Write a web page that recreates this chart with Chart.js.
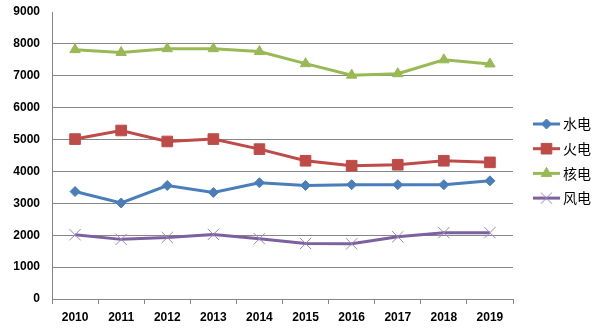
<!DOCTYPE html>
<html>
<head>
<meta charset="utf-8">
<script src="https://cdn.jsdelivr.net/npm/chart.js@4/dist/chart.umd.min.js"></script>
<style>
  html, body { margin: 0; padding: 0; background: #fff; }
  #wrap { width: 600px; height: 335px; }
</style>
</head>
<body>
<div id="wrap"><canvas id="chart" width="600" height="335"></canvas></div>
<script>
var years = ['2010', '2011', '2012', '2013', '2014', '2015', '2016', '2017', '2018', '2019'];
var seriesNames = ['水电', '火电', '核电', '风电'];
var hydro = [3370, 3010, 3560, 3340, 3645, 3560, 3585, 3585, 3585, 3705];
var thermal = [5015, 5285, 4940, 5015, 4700, 4335, 4180, 4210, 4335, 4285];
var nuclear = [7820, 7730, 7850, 7850, 7760, 7380, 7020, 7065, 7500, 7370];
var wind = [2015, 1870, 1930, 2025, 1890, 1740, 1730, 1950, 2080, 2080];

var colors = ['#4a7ebb', '#be4b48', '#98b954', '#7d60a0'];
var markers = ['rectRot', 'rect', 'triangle', 'crossRot'];
var markerSize = [5, 7.5, 6, 8];

function makeSet(i, values) {
    return {
        label: seriesNames[i],
        data: values,
        borderColor: colors[i],
        backgroundColor: colors[i],
        borderWidth: 3,
        tension: 0,
        pointStyle: markers[i],
        pointRadius: markerSize[i],
        pointBorderWidth: 1,
        pointBorderColor: i == 3 ? '#9a86bb' : colors[i],
        pointBackgroundColor: colors[i]
    };
}

// legend drawn by hand: line sample with the marker on it, like the original
var sideLegend = {
    id: 'sideLegend',
    afterDraw: function(chart) {
        var ctx = chart.ctx;
        ctx.save();
        chart.data.datasets.forEach(function(ds, i) {
            var y = 124 + i * 24.7;
            ctx.strokeStyle = ds.borderColor;
            ctx.lineWidth = 3;
            ctx.beginPath();
            ctx.moveTo(533, y);
            ctx.lineTo(560, y);
            ctx.stroke();
            ctx.lineWidth = 1;
            ctx.fillStyle = ds.pointBackgroundColor;
            ctx.strokeStyle = ds.pointBorderColor;
            Chart.helpers.drawPoint(ctx, {
                pointStyle: ds.pointStyle,
                radius: ds.pointRadius,
                borderWidth: 1,
                rotation: 0
            }, 546.5, y);
            ctx.fillStyle = '#000';
            ctx.font = '14px "Noto Sans CJK SC"';
            ctx.textBaseline = 'middle';
            ctx.textAlign = 'left';
            ctx.fillText(ds.label, 563, y);
        });
        ctx.restore();
    }
};

var ctx = document.getElementById('chart');
new Chart(ctx, {
    type: 'line',
    data: {
        labels: years,
        datasets: [makeSet(0, hydro), makeSet(1, thermal), makeSet(2, nuclear), makeSet(3, wind)]
    },
    options: {
        responsive: false,
        animation: false,
        devicePixelRatio: 1,
        layout: { padding: { top: 12, right: 87, left: 0, bottom: 0 } },
        plugins: {
            legend: { display: false },
            tooltip: { enabled: false }
        },
        scales: {
            x: {
                offset: true,
                grid: {
                    offset: true,
                    drawOnChartArea: false,
                    drawTicks: true,
                    tickLength: 5,
                    color: '#868686'
                },
                border: { color: '#868686', width: 1 },
                ticks: {
                    color: '#000',
                    font: { family: 'Liberation Sans', size: 12, weight: 'bold' },
                    padding: 6,
                    maxRotation: 0
                },
                afterFit: function(scale) {
                    scale.height = 36;
                    scale.paddingLeft = 0;
                    scale.paddingRight = 0;
                }
            },
            y: {
                min: 0,
                max: 9000,
                ticks: {
                    stepSize: 1000,
                    color: '#000',
                    font: { family: 'Liberation Sans', size: 12, weight: 'bold' },
                    padding: 12,
                    callback: function(v) { return String(v); }
                },
                grid: {
                    drawTicks: false,
                    color: function(c) { return c.tick && c.tick.value === 9000 ? 'rgba(0,0,0,0)' : '#868686'; }
                },
                border: { color: '#868686', width: 1 },
                afterFit: function(scale) {
                    scale.width = 52;
                    scale.paddingTop = 0;
                    scale.paddingBottom = 0;
                }
            }
        }
    },
    plugins: [sideLegend]
});
</script>
</body>
</html>
